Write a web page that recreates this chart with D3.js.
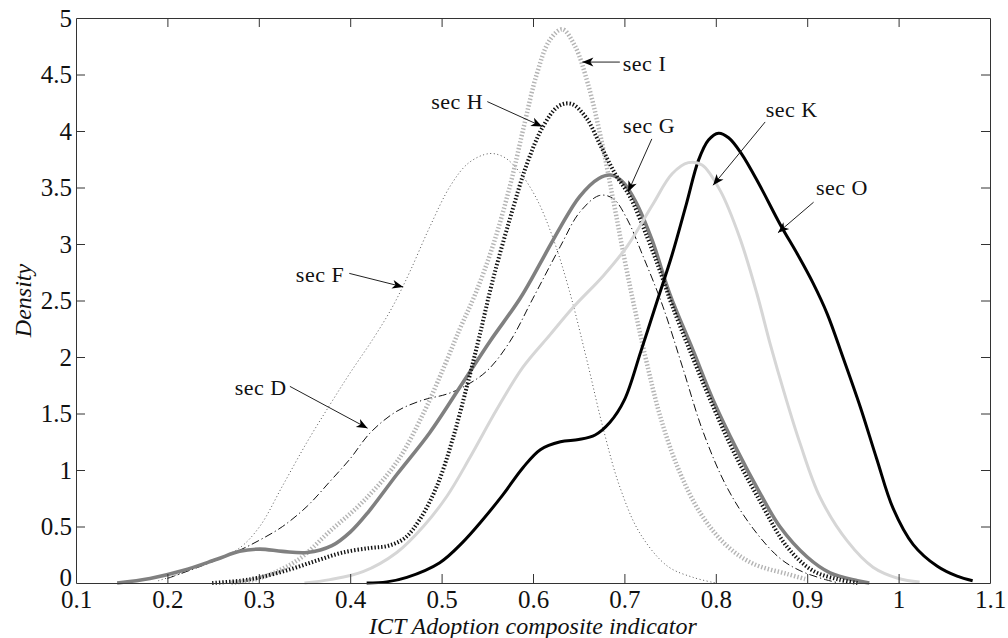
<!DOCTYPE html>
<html>
<head>
<meta charset="utf-8">
<script src="https://cdn.jsdelivr.net/npm/d3@7"></script>
<style>
  body { margin: 0; background: #fff; }
  text { font-family: "Liberation Serif", "Times New Roman", serif; fill: #111; }
</style>
</head>
<body>
<svg id="chart" width="1008" height="638"></svg>
<script>
// density curves, [x, density]
const secF = [[0.19,0.02],[0.22,0.1],[0.254,0.21],[0.279,0.31],[0.301,0.5],[0.326,0.86],[0.353,1.25],[0.378,1.58],[0.4,1.86],[0.425,2.16],[0.446,2.44],[0.465,2.75],[0.487,3.15],[0.51,3.52],[0.53,3.72],[0.552,3.8],[0.568,3.77],[0.585,3.64],[0.604,3.4],[0.622,3.05],[0.64,2.58],[0.659,1.97],[0.677,1.36],[0.695,0.85],[0.717,0.44],[0.747,0.15],[0.775,0.05],[0.8,0]];
const secD = [[0.2,0.04],[0.25,0.19],[0.279,0.29],[0.301,0.38],[0.326,0.5],[0.353,0.68],[0.378,0.9],[0.4,1.1],[0.422,1.33],[0.451,1.52],[0.48,1.62],[0.505,1.67],[0.525,1.74],[0.55,1.88],[0.575,2.14],[0.6,2.52],[0.63,2.98],[0.651,3.28],[0.673,3.43],[0.688,3.4],[0.703,3.22],[0.72,2.9],[0.742,2.45],[0.764,1.9],[0.786,1.34],[0.812,0.85],[0.841,0.48],[0.87,0.22],[0.892,0.11],[0.92,0.03],[0.935,0]];
const secG = [[0.145,0],[0.181,0.04],[0.217,0.11],[0.254,0.21],[0.279,0.28],[0.301,0.3],[0.326,0.28],[0.353,0.27],[0.38,0.33],[0.4,0.45],[0.42,0.63],[0.451,0.96],[0.487,1.33],[0.523,1.77],[0.553,2.14],[0.586,2.52],[0.61,2.86],[0.63,3.15],[0.651,3.42],[0.672,3.58],[0.685,3.61],[0.698,3.55],[0.712,3.38],[0.73,3.04],[0.75,2.55],[0.775,2.06],[0.797,1.62],[0.823,1.18],[0.848,0.8],[0.87,0.5],[0.9,0.23],[0.925,0.09],[0.955,0.02],[0.968,0]];
const secH = [[0.249,0],[0.28,0.02],[0.301,0.05],[0.334,0.12],[0.364,0.2],[0.392,0.27],[0.422,0.31],[0.442,0.33],[0.46,0.4],[0.476,0.56],[0.495,0.86],[0.512,1.27],[0.528,1.75],[0.541,2.17],[0.556,2.68],[0.575,3.23],[0.593,3.7],[0.611,4.04],[0.628,4.22],[0.642,4.24],[0.658,4.12],[0.674,3.87],[0.69,3.62],[0.706,3.42],[0.725,3.06],[0.739,2.76],[0.752,2.46],[0.772,2.05],[0.794,1.62],[0.819,1.17],[0.848,0.73],[0.878,0.32],[0.906,0.11],[0.935,0.03],[0.955,0]];
const secI = [[0.27,0],[0.3,0.04],[0.342,0.2],[0.378,0.46],[0.414,0.72],[0.451,1.07],[0.48,1.5],[0.502,1.9],[0.52,2.25],[0.537,2.56],[0.556,2.98],[0.575,3.52],[0.59,4.04],[0.604,4.5],[0.618,4.8],[0.632,4.9],[0.646,4.75],[0.66,4.42],[0.674,3.95],[0.688,3.38],[0.7,2.87],[0.712,2.4],[0.725,1.93],[0.739,1.48],[0.758,1.03],[0.783,0.62],[0.812,0.33],[0.841,0.17],[0.878,0.08],[0.9,0.03]];
const secK = [[0.35,0],[0.378,0.03],[0.414,0.1],[0.451,0.27],[0.48,0.5],[0.506,0.77],[0.531,1.11],[0.56,1.53],[0.589,1.91],[0.619,2.2],[0.644,2.44],[0.677,2.72],[0.703,2.98],[0.731,3.35],[0.752,3.62],[0.77,3.72],[0.785,3.7],[0.805,3.47],[0.826,3.06],[0.845,2.56],[0.86,2.1],[0.875,1.68],[0.892,1.24],[0.914,0.76],[0.944,0.37],[0.972,0.14],[1.0,0.04],[1.023,0.01]];
const secO = [[0.418,0],[0.44,0.01],[0.462,0.05],[0.498,0.18],[0.523,0.36],[0.545,0.56],[0.567,0.78],[0.589,1.02],[0.608,1.18],[0.63,1.25],[0.65,1.27],[0.668,1.31],[0.684,1.42],[0.7,1.62],[0.718,2.05],[0.736,2.5],[0.752,2.9],[0.768,3.36],[0.781,3.74],[0.792,3.92],[0.803,3.98],[0.814,3.94],[0.828,3.8],[0.848,3.52],[0.87,3.18],[0.89,2.9],[0.906,2.66],[0.922,2.38],[0.939,2.0],[0.958,1.56],[0.976,1.1],[0.994,0.66],[1.016,0.34],[1.042,0.15],[1.064,0.06],[1.081,0.02]];

const xTicks = [0.1,0.2,0.3,0.4,0.5,0.6,0.7,0.8,0.9,1,1.1];
const xTickLabels = ["0.1","0.2","0.3","0.4","0.5","0.6","0.7","0.8","0.9","1","1.1"];
const yTicks = [0,0.5,1,1.5,2,2.5,3,3.5,4,4.5,5];
const yTickLabels = ["0","0.5","1","1.5","2","2.5","3","3.5","4","4.5","5"];

// label, text centre, arrow tail, arrow head (data units)
const notes = [
  ["sec I", [0.722,4.6], [0.695,4.61], [0.654,4.61]],
  ["sec H", [0.517,4.26], [0.55,4.26], [0.61,4.04]],
  ["sec G", [0.727,4.05], [0.73,3.93], [0.704,3.46]],
  ["sec F", [0.367,2.73], [0.399,2.74], [0.458,2.62]],
  ["sec D", [0.302,1.73], [0.334,1.74], [0.419,1.37]],
  ["sec K", [0.883,4.19], [0.854,4.08], [0.797,3.52]],
  ["sec O", [0.938,3.5], [0.907,3.37], [0.868,3.1]]
];

const margin = {top: 18, right: 18, bottom: 55, left: 76};
const W = 1008, H = 638;
const svg = d3.select("#chart");
svg.append("rect").attr("width", W).attr("height", H).attr("fill", "#fff");

const x = d3.scaleLinear().domain([0.1, 1.1]).range([margin.left, W - margin.right]);
const y = d3.scaleLinear().domain([0, 5]).range([H - margin.bottom, margin.top]);

const line = d3.line()
  .x(d => x(d[0]))
  .y(d => y(Math.max(0, d[1])))
  .curve(d3.curveCatmullRom.alpha(0.5));

const series = [
  {data: secF, color: "#555", width: 1, dash: "1,2.6"},
  {data: secD, color: "#111", width: 1, dash: "8,3,1.2,3"},
  {data: secI, color: "#b4b4b4", width: 4.5, dash: "1.4,2"},
  {data: secG, color: "#808080", width: 3.6, dash: null},
  {data: secH, color: "#111", width: 4, dash: "1.4,2"},
  {data: secO, color: "#000", width: 3, dash: null},
  {data: secK, color: "#d6d6d6", width: 3, dash: null}
];

const plot = svg.append("g");
series.forEach(s => {
  plot.append("path")
    .datum(s.data)
    .attr("d", line)
    .attr("fill", "none")
    .attr("stroke", s.color)
    .attr("stroke-width", s.width)
    .attr("stroke-dasharray", s.dash)
    .attr("stroke-linejoin", "round");
});

// axes box with inward ticks
const tick = 9;
const fmt = (vals, labels) => d => labels[vals.indexOf(d)];

const gx = svg.append("g").attr("transform", `translate(0,${y(0)})`)
  .call(d3.axisBottom(x).tickValues(xTicks).tickFormat(fmt(xTicks, xTickLabels))
    .tickSize(-tick).tickSizeOuter(0).tickPadding(7));
const gy = svg.append("g").attr("transform", `translate(${x(0.1)},0)`)
  .call(d3.axisLeft(y).tickValues(yTicks).tickFormat(fmt(yTicks, yTickLabels))
    .tickSize(-tick).tickSizeOuter(0).tickPadding(4));
const gt = svg.append("g").attr("transform", `translate(0,${y(5)})`)
  .call(d3.axisTop(x).tickValues(xTicks).tickFormat("").tickSize(-tick).tickSizeOuter(0));
const gr = svg.append("g").attr("transform", `translate(${x(1.1)},0)`)
  .call(d3.axisRight(y).tickValues(yTicks).tickFormat("").tickSize(-tick).tickSizeOuter(0));

[gx, gy, gt, gr].forEach(g => {
  g.selectAll("path, line").attr("stroke", "#333").attr("stroke-width", 1);
  g.selectAll("text").style("font-size", "25px").attr("fill", "#111");
  g.attr("font-family", null).attr("font-size", null);
});
// the edge ticks sit on the frame, hide them
gx.selectAll(".tick line").filter(d => d === 0.1 || d === 1.1).remove();
gt.selectAll(".tick line").filter(d => d === 0.1 || d === 1.1).remove();
gy.selectAll(".tick line").filter(d => d === 0 || d === 5).remove();
gr.selectAll(".tick line").filter(d => d === 0 || d === 5).remove();
// the y "0" sits a bit higher so it does not run into "0.1"
gy.selectAll(".tick text").filter(d => d === 0).attr("dy", "0.1em");

svg.append("text")
  .attr("x", (x(0.1) + x(1.1)) / 2)
  .attr("y", 634)
  .attr("text-anchor", "middle")
  .style("font-size", "24px")
  .style("font-style", "italic")
  .text("ICT Adoption composite indicator");

svg.append("text")
  .attr("transform", `translate(31,${(y(0) + y(5)) / 2}) rotate(-90)`)
  .attr("text-anchor", "middle")
  .style("font-size", "24px")
  .style("font-style", "italic")
  .text("Density");

// arrows
svg.append("defs").append("marker")
  .attr("id", "head")
  .attr("markerUnits", "userSpaceOnUse")
  .attr("viewBox", "-12 -6 14 12")
  .attr("markerWidth", 14).attr("markerHeight", 12)
  .attr("refX", 0).attr("refY", 0)
  .attr("orient", "auto")
  .append("path")
  .attr("d", "M0,0 L-11,-4.5 L-8,0 L-11,4.5 Z")
  .attr("fill", "#000");

const ann = svg.append("g");
notes.forEach(n => {
  ann.append("line")
    .attr("x1", x(n[2][0])).attr("y1", y(n[2][1]))
    .attr("x2", x(n[3][0])).attr("y2", y(n[3][1]))
    .attr("stroke", "#222").attr("stroke-width", 1)
    .attr("marker-end", "url(#head)");
  ann.append("text")
    .attr("x", x(n[1][0])).attr("y", y(n[1][1]))
    .attr("dy", "0.35em")
    .attr("text-anchor", "middle")
    .style("font-size", "22px")
    .style("letter-spacing", "0.5px")
    .text(n[0]);
});
</script>
</body>
</html>
